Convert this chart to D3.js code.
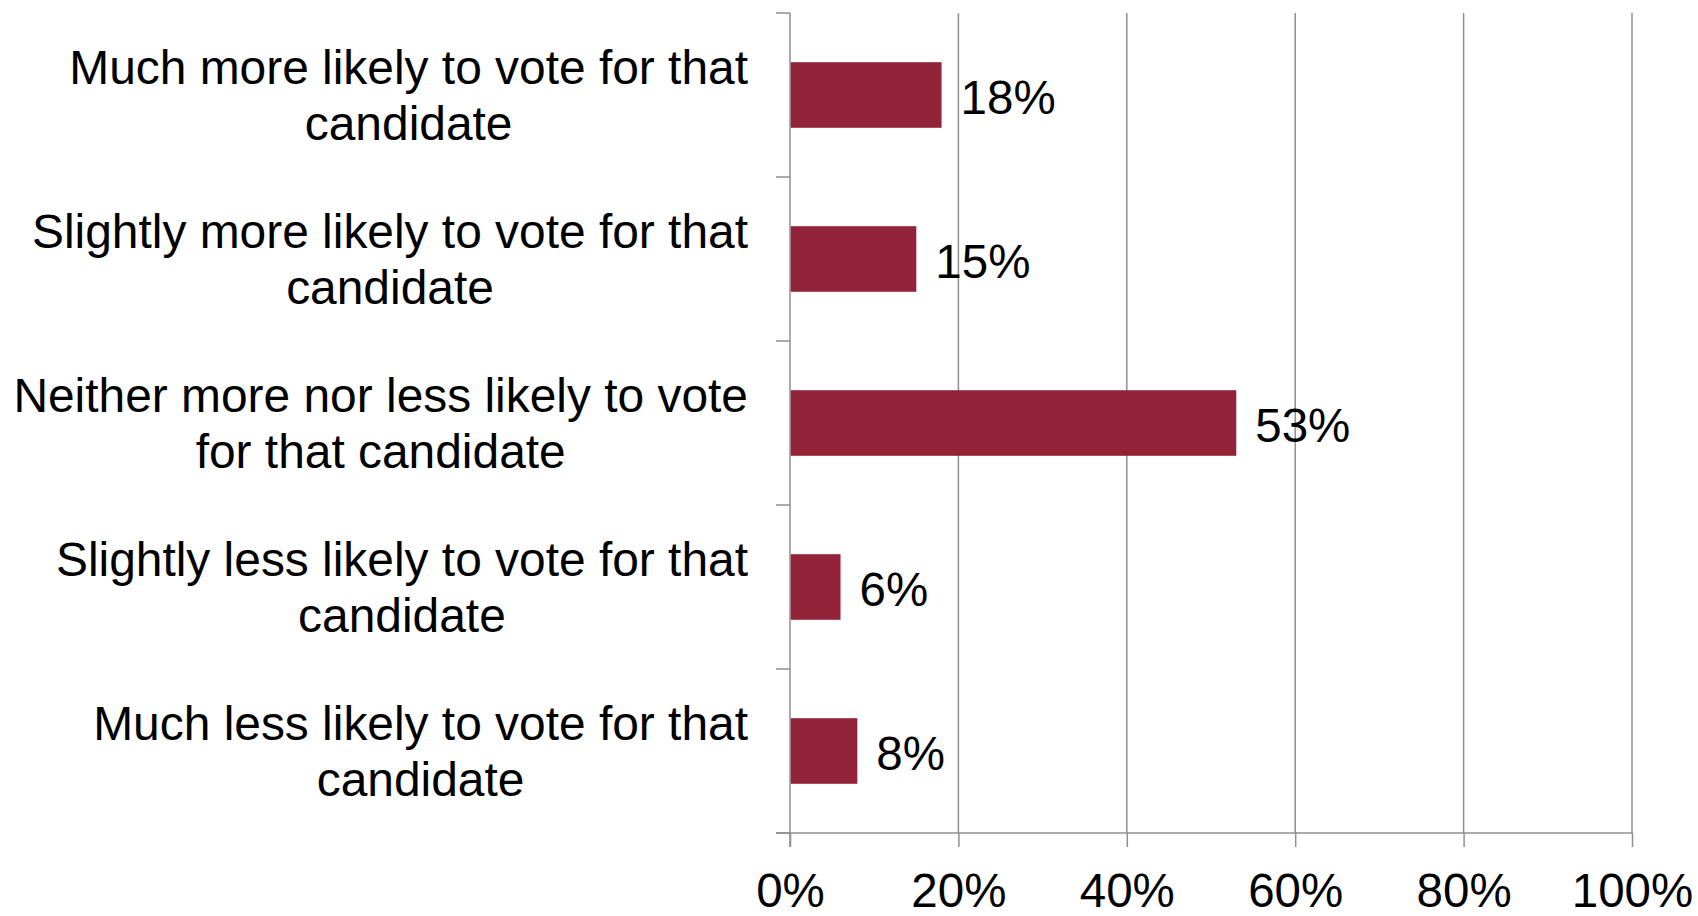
<!DOCTYPE html>
<html>
<head>
<meta charset="utf-8">
<script src="https://cdn.jsdelivr.net/npm/d3@7"></script>
<style>
  html, body { margin: 0; padding: 0; background: #fff; }
  svg { display: block; }
  text { font-family: "Liberation Sans", Arial, sans-serif; fill: #000; }
</style>
</head>
<body>
<svg id="chart" width="1698" height="916"></svg>
<script>
const categories = [
  "Much more likely to vote for that\ncandidate",
  "Slightly more likely to vote for that\ncandidate",
  "Neither more nor less likely to vote\nfor that candidate",
  "Slightly less likely to vote for that\ncandidate",
  "Much less likely to vote for that\ncandidate"
];
const values = [0.18, 0.15, 0.53, 0.06, 0.08];
const tickValues = [0, 0.2, 0.4, 0.6, 0.8, 1.0];
const tickLabels = ["0%", "20%", "40%", "60%", "80%", "100%"];
const valueLabels = ["18%", "15%", "53%", "6%", "8%"];

const svg = d3.select("#chart");
const FS = 47.5;
const FS_CAT = 47.9;
const gridColor = "#8f8f8f";
const barColor = "#922339";

const x = d3.scaleLinear().domain([0, 1]).range([790, 1632]);
const y = d3.scaleBand().domain(categories).range([13, 833]).padding(0);
const bw = y.bandwidth();

// vertical gridlines
svg.append("g").selectAll("line").data(tickValues.slice(1)).join("line")
  .attr("x1", d => x(d)).attr("x2", d => x(d))
  .attr("y1", 13).attr("y2", 833)
  .attr("stroke", gridColor).attr("stroke-width", 1.5);

// bottom axis
const xAxis = d3.axisBottom(x)
  .tickValues(tickValues)
  .tickSize(14)
  .tickSizeOuter(0)
  .tickFormat((d, i) => tickLabels[i]);
const gx = svg.append("g").attr("transform", "translate(0,833)").call(xAxis);
gx.select(".domain").remove();
gx.selectAll(".tick line").attr("stroke", gridColor).attr("stroke-width", 1.5);
gx.selectAll(".tick text")
  .attr("y", 74).attr("dy", null)
  .style("font-size", FS + "px")
  .style("font-family", '"Liberation Sans", Arial, sans-serif')
  .attr("fill", "#000");
svg.append("line")
  .attr("x1", 776).attr("x2", x(1))
  .attr("y1", 833).attr("y2", 833)
  .attr("stroke", gridColor).attr("stroke-width", 1.5);

// left axis line + band-boundary ticks
svg.append("line")
  .attr("x1", x(0)).attr("x2", x(0))
  .attr("y1", 13).attr("y2", 847)
  .attr("stroke", gridColor).attr("stroke-width", 1.5);
const boundaries = categories.map(c => y(c)).concat([y.range()[1]]);
svg.append("g").selectAll("line").data(boundaries).join("line")
  .attr("x1", 776).attr("x2", x(0))
  .attr("y1", d => d).attr("y2", d => d)
  .attr("stroke", gridColor).attr("stroke-width", 1.5);

// bars
svg.append("g").selectAll("rect").data(categories).join("rect")
  .attr("x", x(0) + 0.75)
  .attr("y", d => y(d) + bw * 0.3)
  .attr("width", (d, i) => x(values[i]) - x(0) - 0.75)
  .attr("height", bw * 0.4)
  .attr("fill", barColor);

// value labels
svg.append("g").selectAll("text").data(categories).join("text")
  .attr("x", (d, i) => x(values[i]) + 19)
  .attr("y", d => y(d) + bw / 2 + 19)
  .style("font-size", FS + "px")
  .text((d, i) => valueLabels[i]);

// category labels (two centered lines, block right-aligned)
const rightEdge = 748;
categories.forEach(c => {
  const lines = c.split("\n");
  const g = svg.append("g");
  const texts = lines.map((ln, j) => g.append("text")
    .attr("y", y(c) + bw / 2 - 11 + j * 55.5)
    .attr("text-anchor", "middle")
    .style("font-size", FS_CAT + "px")
    .text(ln));
  const maxW = d3.max(texts, t => t.node().getComputedTextLength());
  texts.forEach(t => t.attr("x", rightEdge - maxW / 2));
});
</script>
</body>
</html>
